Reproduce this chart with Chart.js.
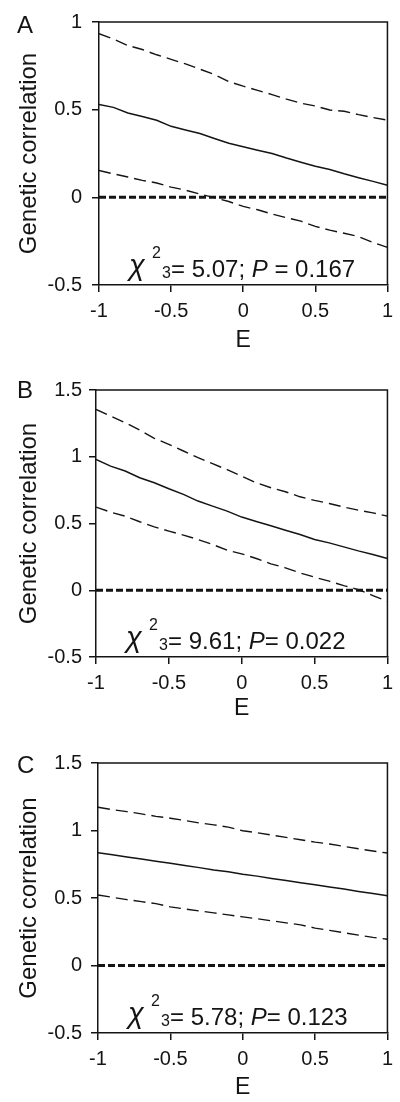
<!DOCTYPE html>
<html>
<head>
<meta charset="utf-8">
<script src="https://cdn.jsdelivr.net/npm/chart.js@4.4.1/dist/chart.umd.min.js"></script>
<style>
  body { margin: 0; background: #fff; width: 400px; height: 1102px; position: relative; overflow: hidden; }
  canvas { position: absolute; left: 0; }
</style>
</head>
<body>
<canvas id="panelA" width="400" height="370" style="top:0px"></canvas>
<canvas id="panelB" width="400" height="370" style="top:370px"></canvas>
<canvas id="panelC" width="400" height="362" style="top:740px"></canvas>
<script>
const eValues = [-1, -0.9, -0.8, -0.7, -0.6, -0.5, -0.4, -0.3, -0.2, -0.1, 0,
                 0.1, 0.2, 0.3, 0.4, 0.5, 0.6, 0.7, 0.8, 0.9, 1];

// panel A
const corrA  = [0.530, 0.513, 0.481, 0.461, 0.440, 0.405, 0.384, 0.364, 0.336, 0.308, 0.289,
                0.269, 0.250, 0.224, 0.200, 0.177, 0.159, 0.134, 0.112, 0.091, 0.069];
const upperA = [0.933, 0.903, 0.866, 0.843, 0.813, 0.787, 0.761, 0.731, 0.701, 0.660, 0.634,
                0.610, 0.586, 0.560, 0.537, 0.521, 0.498, 0.491, 0.472, 0.455, 0.440];
const lowerA = [0.153, 0.134, 0.116, 0.097, 0.082, 0.058, 0.041, 0.019, -0.002, -0.024, -0.052,
                -0.071, -0.095, -0.116, -0.136, -0.166, -0.187, -0.205, -0.224, -0.257, -0.285];

// panel B
const corrB  = [0.980, 0.930, 0.893, 0.843, 0.805, 0.760, 0.718, 0.668, 0.630, 0.593, 0.548,
                0.515, 0.483, 0.450, 0.418, 0.380, 0.355, 0.325, 0.295, 0.268, 0.238];
const upperB = [1.355, 1.305, 1.255, 1.200, 1.138, 1.093, 1.043, 0.993, 0.948, 0.903, 0.855,
                0.805, 0.768, 0.738, 0.700, 0.673, 0.650, 0.623, 0.600, 0.580, 0.555];
const lowerB = [0.623, 0.585, 0.555, 0.513, 0.475, 0.443, 0.413, 0.380, 0.343, 0.300, 0.273,
                0.238, 0.198, 0.168, 0.130, 0.098, 0.068, 0.035, 0.005, -0.040, -0.083];

// panel C
const corrC  = [0.836, 0.821, 0.804, 0.789, 0.772, 0.757, 0.740, 0.725, 0.708, 0.694, 0.676,
                0.662, 0.645, 0.630, 0.613, 0.598, 0.581, 0.566, 0.549, 0.534, 0.517];
const upperC = [1.172, 1.154, 1.140, 1.123, 1.105, 1.091, 1.074, 1.056, 1.042, 1.025, 0.998,
                0.983, 0.966, 0.949, 0.931, 0.914, 0.900, 0.882, 0.865, 0.848, 0.833];
const lowerC = [0.522, 0.505, 0.488, 0.473, 0.458, 0.434, 0.419, 0.404, 0.390, 0.375, 0.360,
                0.346, 0.331, 0.316, 0.301, 0.277, 0.260, 0.243, 0.225, 0.208, 0.194];

// reference line at zero
const zeroE = [-1, 1];
const zeroLine = [0, 0];

// ticks
const xTicks = [-1, -0.5, 0, 0.5, 1];
const yTicksA = [-0.5, 0, 0.5, 1];
const yTicksBC = [-0.5, 0, 0.5, 1, 1.5];

const ink = "#141414";
const family = '"Liberation Sans", Arial, Helvetica, sans-serif';

function points(xs, ys) {
  return xs.map((x, i) => ({ x: x, y: ys[i] }));
}

// frame on top/right, panel letter and the chi-square text
const panelDecor = {
  id: "panelDecor",
  afterDraw(chart, args, opts) {
    const { ctx, chartArea: a } = chart;
    ctx.save();
    ctx.strokeStyle = ink;
    ctx.lineWidth = 1.5;
    ctx.beginPath();
    ctx.moveTo(a.left, a.top);
    ctx.lineTo(a.right, a.top);
    ctx.lineTo(a.right, a.bottom);
    ctx.stroke();

    ctx.fillStyle = ink;
    ctx.textBaseline = "alphabetic";
    ctx.textAlign = "left";
    ctx.font = "24px " + family;
    ctx.fillText(opts.letter, 17, a.top + opts.letterDy);

    const x0 = a.left + 30;
    const y = a.bottom - 8;
    ctx.font = "italic 29px " + family;
    ctx.fillText("\u03C7", x0, y - 2);
    ctx.font = "16px " + family;
    ctx.fillText("2", x0 + 23, y - 19);
    ctx.fillText("3", x0 + 33, y + 1);
    let x = x0 + 42;
    ctx.font = "24px " + family;
    const s1 = "= " + opts.chi + "; ";
    ctx.fillText(s1, x, y);
    x += ctx.measureText(s1).width;
    ctx.font = "italic 24px " + family;
    ctx.fillText("P", x, y);
    x += ctx.measureText("P").width;
    ctx.font = "24px " + family;
    ctx.fillText(opts.pSep + opts.p, x, y);
    ctx.restore();
  },
};

function makePanel(id, cfg) {
  const ctx = document.getElementById(id);
  return new Chart(ctx, {
    type: "line",
    data: {
      datasets: [
        { data: points(zeroE, zeroLine), borderColor: ink, borderWidth: 3, borderDash: [7, 3] },
        { data: points(eValues, cfg.upper), borderColor: ink, borderWidth: 1.4, borderDash: [12, 6] },
        { data: points(eValues, cfg.corr), borderColor: ink, borderWidth: 1.5 },
        { data: points(eValues, cfg.lower), borderColor: ink, borderWidth: 1.4, borderDash: [12, 6] },
      ],
    },
    options: {
      responsive: false,
      animation: false,
      events: [],
      elements: { point: { radius: 0 }, line: { tension: 0, fill: false } },
      layout: { padding: { top: cfg.top, right: cfg.right, left: 0, bottom: 0 } },
      plugins: {
        legend: { display: false },
        tooltip: { enabled: false },
        panelDecor: { letter: cfg.letter, letterDy: cfg.letterDy, chi: cfg.chi, p: cfg.p, pSep: cfg.pSep },
      },
      scales: {
        x: {
          type: "linear",
          min: -1,
          max: 1,
          afterBuildTicks: (s) => { s.ticks = xTicks.map((v) => ({ value: v })); },
          afterFit: (s) => { s.height = cfg.xHeight; },
          grid: { drawOnChartArea: false, drawTicks: true, tickLength: 7, color: ink, lineWidth: 1.5 },
          border: { display: true, color: ink, width: 1.5 },
          ticks: {
            color: ink,
            padding: 7,
            maxRotation: 0,
            font: { family: family, size: 20 },
            callback: (v) => String(v),
          },
          title: {
            display: true,
            text: "E",
            color: ink,
            font: { family: family, size: 23 },
            padding: { top: 0, bottom: cfg.eBottom },
          },
        },
        y: {
          type: "linear",
          min: cfg.yTicks[0],
          max: cfg.yTicks[cfg.yTicks.length - 1],
          afterBuildTicks: (s) => { s.ticks = cfg.yTicks.map((v) => ({ value: v })); },
          afterFit: (s) => { s.width = cfg.left; },
          grid: { drawOnChartArea: false, drawTicks: true, tickLength: 7, color: ink, lineWidth: 1.5 },
          border: { display: true, color: ink, width: 1.5 },
          ticks: {
            color: ink,
            padding: cfg.left - 7 - 82,
            font: { family: family, size: 20 },
            callback: (v) => String(v),
          },
          title: {
            display: true,
            text: "Genetic correlation",
            color: ink,
            font: { family: family, size: 24 },
            padding: { top: 15, bottom: 0 },
          },
        },
      },
    },
    plugins: [panelDecor],
  });
}

makePanel("panelA", {
  letter: "A", letterDy: 11, chi: "5.07", pSep: " = ", p: "0.167",
  corr: corrA, upper: upperA, lower: lowerA, yTicks: yTicksA,
  top: 15, right: 6, left: 99, xHeight: 85, eBottom: 16,
});
makePanel("panelB", {
  letter: "B", letterDy: 8, chi: "9.61", pSep: "= ", p: "0.022",
  corr: corrB, upper: upperB, lower: lowerB, yTicks: yTicksBC,
  top: 20, right: 9, left: 96, xHeight: 83, eBottom: 18,
});
makePanel("panelC", {
  letter: "C", letterDy: 10, chi: "5.78", pSep: "= ", p: "0.123",
  corr: corrC, upper: upperC, lower: lowerC, yTicks: yTicksBC,
  top: 23, right: 6, left: 98, xHeight: 69, eBottom: 1,
});
</script>
</body>
</html>
